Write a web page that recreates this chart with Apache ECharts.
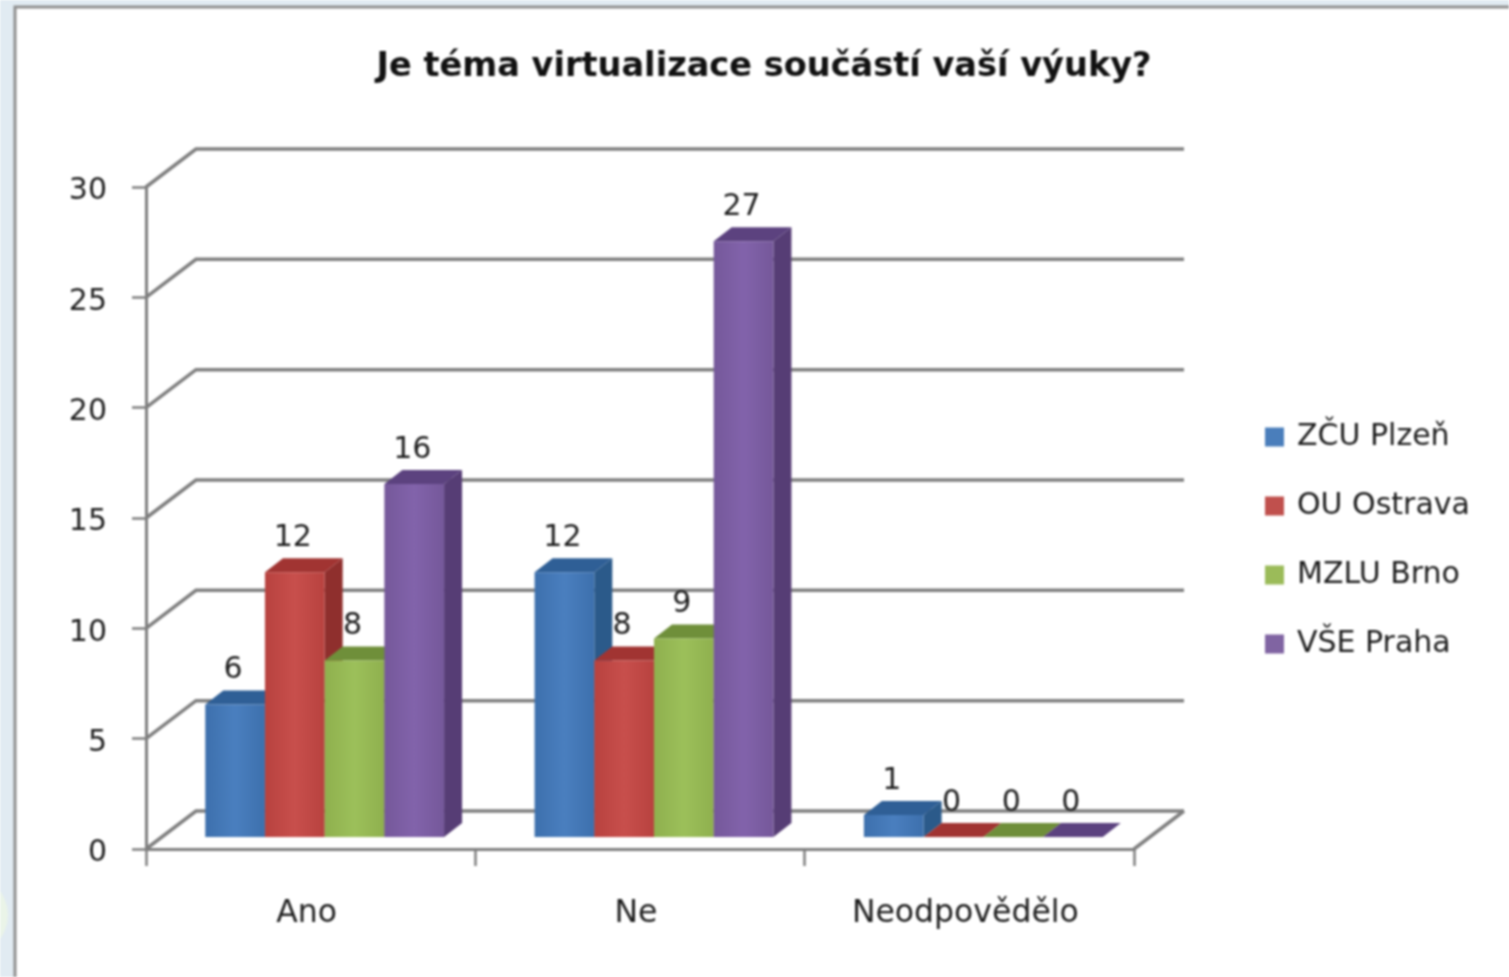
<!DOCTYPE html>
<html><head><meta charset="utf-8">
<style>html,body{margin:0;padding:0;background:#fff;overflow:hidden}#c{width:1509px;height:977px;filter:blur(.8px)}</style>
<script src="https://cdn.jsdelivr.net/npm/echarts@6/dist/echarts.min.js"></script>
</head><body><div id="c"></div>
<script>
const titleText = 'Je téma virtualizace součástí vaší výuky?';
const categories = ['Ano', 'Ne', 'Neodpovědělo'];
const seriesNames = ['ZČU Plzeň', 'OU Ostrava', 'MZLU Brno', 'VŠE Praha'];
const zcuPlzen = [6, 12, 1];
const ouOstrava = [12, 8, 0];
const mzluBrno = [8, 9, 0];
const vsePraha = [16, 27, 0];
const yTicks = [0, 5, 10, 15, 20, 25, 30];

const allValues = [zcuPlzen, ouOstrava, mzluBrno, vsePraha];
const palette = [
  {edge:'#3d70ad', mid:'#4a7fbf', top:'#2f5f96', side:'#2b5a8a', legend:'#4a7ebb'},
  {edge:'#b8423f', mid:'#c84f4c', top:'#a13432', side:'#8f2f2d', legend:'#c0504d'},
  {edge:'#8fb04e', mid:'#9cc05a', top:'#6f8f3a', side:'#6d8a38', legend:'#9bbb59'},
  {edge:'#75589a', mid:'#8263ab', top:'#5c427f', side:'#563d75', legend:'#8064a2'}
];
const lineCol = '#7f7f7f', txtCol = '#1e1e1e', fontFam = '"DejaVu Sans"';
const wallDX = 50, wallDY = -38, baseDX = 14, baseDY = -12, depthDX = 18, depthDY = -14, barFrac = 0.1813;

function barRender(si) {
  return function (params, api) {
    const cat = api.value(0), v = api.value(1);
    const band = api.size([1, 0])[0], w = band * barFrac;
    const b = api.coord([cat, 0]), t = api.coord([cat, v]);
    const x0 = b[0] + baseDX + (si - 2) * w, x1 = x0 + w;
    const yb = b[1] + baseDY, yt = t[1] + baseDY;
    const p = palette[si], kids = [];
    kids.push({type:'polygon', z2:20, shape:{points:[[x0,yt],[x1,yt],[x1+depthDX,yt+depthDY],[x0+depthDX,yt+depthDY]]}, style:{fill:p.top}});
    if (v > 0) {
      kids.push({type:'polygon', z2:10, shape:{points:[[x1,yb],[x1,yt],[x1+depthDX,yt+depthDY],[x1+depthDX,yb+depthDY]]}, style:{fill:p.side}});
      kids.push({type:'rect', z2:30, shape:{x:x0,y:yt,width:w,height:yb-yt}, style:{fill:{type:'linear',x:0,y:0,x2:1,y2:0,colorStops:[{offset:0,color:p.edge},{offset:.5,color:p.mid},{offset:1,color:p.edge}]}}});
    }
    kids.push({type:'text', z2:40, style:{text:String(v), x:(x0+x1)/2-2, y:yt-34, fill:txtCol, font:'30px '+fontFam, textAlign:'center', textVerticalAlign:'middle'}});
    return {type:'group', children:kids};
  };
}
function wallRender(params, api) {
  const cs = params.coordSys, y = api.coord([0, api.value(1)])[1];
  const x = cs.x, st = {stroke:lineCol, lineWidth:3.5, fill:'none'};
  const pts = [[x,y],[x+wallDX,y+wallDY],[x+cs.width+wallDX,y+wallDY]];
  const kids = [{type:'polyline', shape:{points:pts}, style:st}];
  if (api.value(1) === 0) kids.push({type:'line', shape:{x1:x+cs.width,y1:y,x2:x+cs.width+wallDX,y2:y+wallDY}, style:st});
  return {type:'group', children:kids};
}
const series = [{type:'custom', silent:true, clip:false, z:1, renderItem:wallRender, encode:{x:0,y:1}, data:yTicks.map(v=>[0,v])}];
seriesNames.forEach((n,si)=>series.push({
  type:'custom', name:n, clip:false, z:2, silent:true, renderItem:barRender(si), encode:{x:0,y:1},
  itemStyle:{color:palette[si].legend}, data:allValues[si].map((v,i)=>[i,v])
}));

const chart = echarts.init(document.getElementById('c'), null, {renderer:'canvas', width:1509, height:977});
chart.setOption({
  animation:false,
  backgroundColor:'#e1ebf2',
  graphic:[
    {type:'rect', z:-5, silent:true, shape:{x:15,y:7,width:1520,height:1000}, style:{fill:'#fff', stroke:'#8f8f8f', lineWidth:3}},
    {type:'circle', z:-4, silent:true, shape:{cx:-32,cy:915,r:40}, style:{fill:'#eaf4e8'}}
  ],
  title:{text:titleText, left:759, top:45, textAlign:'center', textStyle:{fontFamily:fontFam, fontWeight:'bold', fontSize:33.6, color:'#111'}},
  legend:{orient:'vertical', left:1260, top:414, itemWidth:19, itemHeight:19, itemGap:33, icon:'rect', selectedMode:false, data:seriesNames,
    textStyle:{fontFamily:fontFam, fontSize:30, color:txtCol, lineHeight:36, padding:[0,0,0,8]}},
  grid:{left:146, right:375, top:187, bottom:128},
  xAxis:{type:'category', data:categories, axisLine:{lineStyle:{color:lineCol,width:3}}, axisTick:{show:true,length:17,lineStyle:{color:lineCol,width:2.5}},
    axisLabel:{fontFamily:fontFam, fontSize:31.5, color:txtCol, margin:49, padding:[0,8,0,0]}},
  yAxis:{type:'value', min:0, max:30, interval:5, splitLine:{show:false}, axisLine:{show:true,lineStyle:{color:lineCol,width:3}}, axisTick:{show:true,length:14,lineStyle:{color:lineCol,width:2.5}},
    axisLabel:{margin:39, formatter:'{a|{value}}', rich:{a:{fontFamily:fontFam, fontSize:30, color:txtCol, padding:[9,0,0,0]}}}},
  series
});
</script></body></html>
